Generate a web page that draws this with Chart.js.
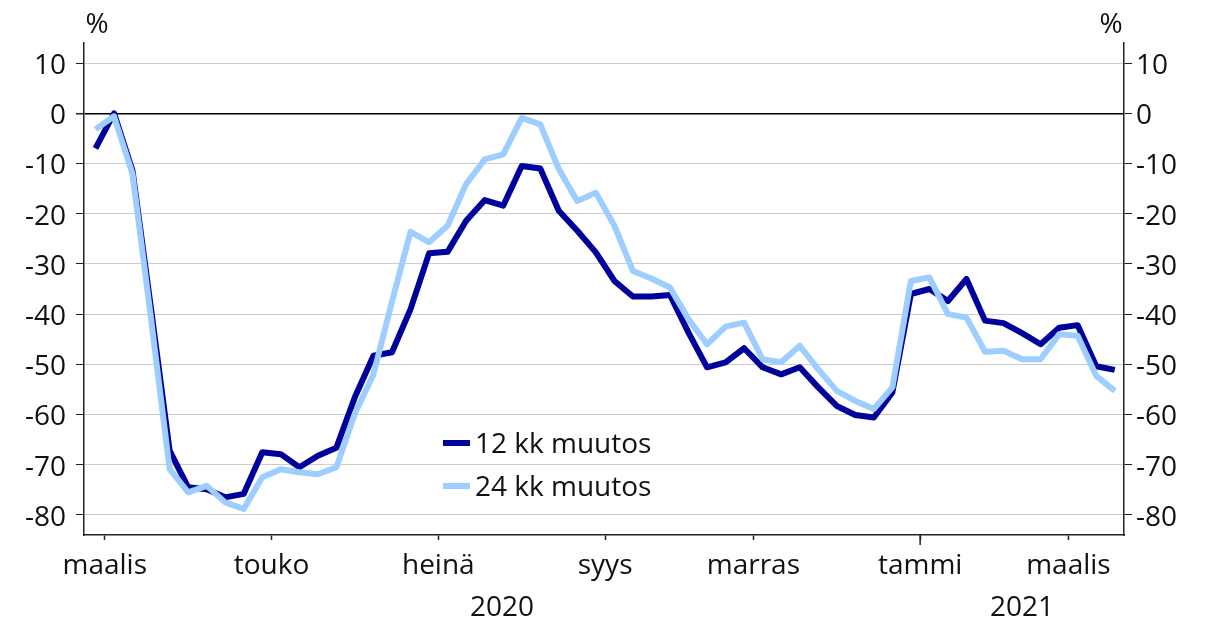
<!DOCTYPE html>
<html>
<head>
<meta charset="utf-8">
<script src="https://cdn.jsdelivr.net/npm/chart.js@4.4.1/dist/chart.umd.min.js"></script>
<style>
  body { margin: 0; background: #fff; }
  canvas { display: block; }
</style>
</head>
<body>
<canvas id="chart" width="1212" height="622"></canvas>
<script>
// Weekly values, % change (first week of March 2020 .. end of March 2021)
const change12 = [
  -7.0, 0.0, -11.5, -39.0, -67.2, -74.5, -74.9, -76.5, -75.8, -67.5,
  -67.9, -70.5, -68.2, -66.6, -56.5, -48.3, -47.6, -39.0, -27.9, -27.6,
  -21.4, -17.3, -18.4, -10.5, -11.0, -19.4, -23.4, -27.7, -33.4, -36.5,
  -36.5, -36.2, -43.7, -50.6, -49.6, -46.8, -50.6, -52.0, -50.6, -54.6,
  -58.3, -60.1, -60.6, -55.6, -36.0, -35.0, -37.4, -33.0, -41.3, -41.8,
  -43.8, -46.0, -42.7, -42.2, -50.4, -51.1
];
const change24 = [
  -3.2, -0.6, -12.1, -41.0, -70.9, -75.5, -74.2, -77.5, -78.8, -72.5,
  -70.9, -71.5, -71.9, -70.5, -59.8, -52.0, -37.5, -23.6, -25.7, -22.4,
  -14.1, -9.2, -8.2, -0.9, -2.2, -11.1, -17.5, -15.8, -22.4, -31.4,
  -32.9, -34.7, -41.0, -46.0, -42.5, -41.7, -49.0, -49.6, -46.3, -51.0,
  -55.3, -57.3, -58.9, -54.6, -33.4, -32.7, -40.0, -40.7, -47.5, -47.3,
  -49.0, -49.0, -44.0, -44.3, -52.3, -55.3
];
const seriesNames = ['12 kk muutos', '24 kk muutos'];

// month ticks sit on the week boundary where the month starts
const monthLabels = ['maalis', 'touko', 'heinä', 'syys', 'marras', 'tammi', 'maalis'];
const monthStarts = [0.5, 9.5, 18.5, 27.5, 35.5, 44.5, 52.5];
const yearLabels = ['2020', '2021'];
const yearStart = 44.5;
const yTicks = [10, 0, -10, -20, -30, -40, -50, -60, -70, -80];

const FONT = "'Open Sans', sans-serif";
const DARK = '#00009c';
const LIGHT = '#9dceff';
const AXIS = '#222';

Chart.defaults.font.family = FONT;
Chart.defaults.font.size = 28;
Chart.defaults.color = '#111';

const toPoints = arr => arr.map((v, i) => ({x: i, y: v}));

// percent signs, year row, longer tick at year change, legend inside plot
const extras = {
  id: 'extras',
  afterDraw(chart) {
    const {ctx, chartArea: a} = chart;
    const x = chart.scales.x;
    ctx.save();
    ctx.fillStyle = '#111';
    ctx.font = '28px ' + FONT;
    ctx.textAlign = 'center';
    ctx.textBaseline = 'alphabetic';
    ctx.fillText('%', a.left + 13, 33);
    ctx.fillText('%', a.right - 13, 33);

    const split = x.getPixelForValue(yearStart);
    ctx.fillText(yearLabels[0], (a.left + split) / 2, 616);
    ctx.fillText(yearLabels[1], (split + a.right) / 2, 616);

    ctx.strokeStyle = AXIS;
    ctx.lineWidth = 1.5;
    ctx.beginPath();
    ctx.moveTo(split, a.bottom);
    ctx.lineTo(split, a.bottom + 10);
    ctx.stroke();

    // legend
    const items = [[seriesNames[0], DARK], [seriesNames[1], LIGHT]];
    ctx.textAlign = 'left';
    items.forEach((it, k) => {
      const cy = 443 + k * 43;
      ctx.fillStyle = it[1];
      ctx.fillRect(443, cy - 3, 27, 6);
      ctx.fillStyle = '#111';
      ctx.fillText(it[0], 475, cy + 10);
    });
    ctx.restore();
  }
};

new Chart(document.getElementById('chart'), {
  type: 'line',
  data: {
    datasets: [
      {
        label: seriesNames[1],
        data: toPoints(change24),
        borderColor: LIGHT,
        borderWidth: 6,
        order: 0
      },
      {
        label: seriesNames[0],
        data: toPoints(change12),
        borderColor: DARK,
        borderWidth: 6,
        order: 1
      }
    ]
  },
  options: {
    responsive: false,
    animation: false,
    devicePixelRatio: 1,
    layout: { padding: { top: 43, left: 0, right: 0, bottom: 0 } },
    elements: {
      point: { radius: 0 },
      line: { tension: 0, borderJoinStyle: 'round', borderCapStyle: 'butt' }
    },
    plugins: {
      legend: { display: false },
      tooltip: { enabled: false }
    },
    scales: {
      x: {
        type: 'linear',
        position: 'bottom',
        min: -0.62,
        max: 55.5,
        afterBuildTicks: s => { s.ticks = monthStarts.map(v => ({value: v})); },
        afterFit: s => { s.height = 87; },
        ticks: {
          autoSkip: false,
          maxRotation: 0,
          padding: 9,
          callback: (v, i) => monthLabels[i]
        },
        grid: { drawOnChartArea: false, tickLength: 5, tickColor: AXIS, tickWidth: 1.5 },
        border: { color: AXIS, width: 1.5 }
      },
      y: {
        position: 'left',
        min: -84,
        max: 14,
        afterBuildTicks: s => { s.ticks = yTicks.map(v => ({value: v})); },
        afterFit: s => { s.width = 84; },
        ticks: { padding: 10, labelOffset: 3 },
        grid: {
          color: c => c.tick && c.tick.value === 0 ? '#000' : '#cccccc',
          lineWidth: c => c.tick && c.tick.value === 0 ? 1.5 : 1,
          tickColor: AXIS,
          tickLength: 8
        },
        border: { color: AXIS, width: 1.5 }
      },
      y2: {
        position: 'right',
        min: -84,
        max: 14,
        afterBuildTicks: s => { s.ticks = yTicks.map(v => ({value: v})); },
        afterFit: s => { s.width = 88; },
        ticks: { padding: 4, labelOffset: 3 },
        grid: { drawOnChartArea: false, tickColor: AXIS, tickLength: 8 },
        border: { color: AXIS, width: 1.5 }
      }
    }
  },
  plugins: [extras]
});
</script>
</body>
</html>
